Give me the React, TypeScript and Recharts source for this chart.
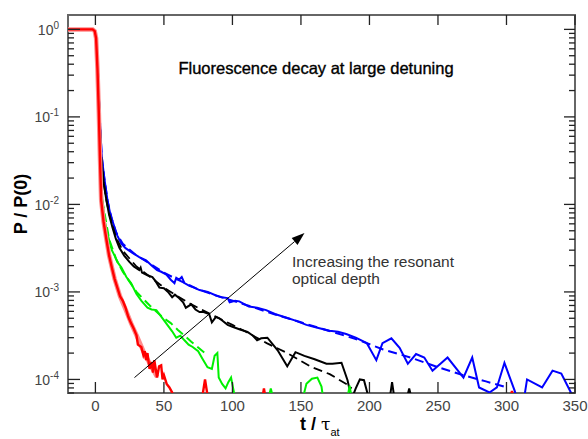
import { LineChart, Line, XAxis, YAxis, ReferenceLine, ReferenceArea } from "recharts";

type Pt = [number, number];

const FONT = "'Liberation Sans', Arial, sans-serif";

// plot frame edges in px (chart is 588 x 439)
const LEFT = 68;
const RIGHT = 575;
const TOP = 15;
const BOTTOM = 393;

// t / tau_at on x, P / P(0) on a log y axis
const X_DOMAIN = [-20, 350];
const Y_DOMAIN = [7e-5, 1.46];
const X_TICKS = [0, 50, 100, 150, 200, 250, 300, 350];
const Y_TICKS = [
  7e-5, 8e-5, 9e-5,
  1e-4, 2e-4, 3e-4, 4e-4, 5e-4, 6e-4, 7e-4, 8e-4, 9e-4,
  1e-3, 2e-3, 3e-3, 4e-3, 5e-3, 6e-3, 7e-3, 8e-3, 9e-3,
  1e-2, 2e-2, 3e-2, 4e-2, 5e-2, 6e-2, 7e-2, 8e-2, 9e-2,
  0.1, 0.2, 0.3, 0.4, 0.5, 0.6, 0.7, 0.8, 0.9, 1,
];

const BLUE: Pt[] = [
  [-20, 1], [-2, 1], [-0.5, 0.955], [0.5, 0.794], [1.8, 0.355], [3, 0.112], [4.6, 0.0355], [6.5, 0.02],
  [8.8, 0.0112], [11, 7.6e-3], [13.9, 5.5e-3], [16, 4.4e-3], [18.9, 3.55e-3], [22, 3.16e-3], [27, 2.8e-3],
  [32, 2.5e-3], [37, 2.3e-3], [41, 2.0e-3], [45, 1.78e-3], [48, 1.7e-3], [51.8, 1.58e-3], [55, 1.38e-3],
  [57.7, 1.26e-3], [59, 1.45e-3], [61, 1.38e-3], [63, 1.48e-3], [65, 1.26e-3], [68.6, 1.17e-3], [72, 1.12e-3],
  [76, 1.05e-3], [82, 1.0e-3], [88, 9.1e-4], [92, 8.7e-4], [96.5, 8.5e-4], [98, 7.6e-4], [102, 7.9e-4],
  [105, 7.8e-4], [112, 6.8e-4], [118, 6.6e-4], [124.6, 6.2e-4], [131, 5.6e-4], [139, 5.1e-4], [146, 4.7e-4],
  [154, 4.2e-4], [162, 3.9e-4], [171, 3.6e-4], [177, 3.5e-4], [183, 3.3e-4], [190, 3.0e-4], [198, 2.6e-4],
  [205, 1.66e-4], [209.5, 2.6e-4], [216, 2.95e-4], [222, 2.3e-4], [228, 1.51e-4], [234, 1.95e-4], [240, 1.78e-4],
  [246, 1.26e-4], [257, 1.78e-4], [268.6, 1.05e-4], [275, 1.78e-4], [280, 8.1e-5], [287.6, 7.1e-5], [293, 8.1e-5],
  [298.5, 1.55e-4], [306, 7.4e-5], [309, 5e-5], [312, 5e-5], [315, 1.0e-4], [326, 8.1e-5], [333.6, 1.26e-4],
  [340, 1.17e-4], [347, 7.1e-5], [350, 5.6e-5],
];
const BLUE_FIT: Pt[] = [
  [-20, 1], [-2, 1], [-0.5, 0.955], [0.5, 0.794], [1.8, 0.355], [3, 0.112], [4.6, 0.0355], [6.5, 0.02],
  [9, 0.0107], [12, 6.8e-3], [15, 4.8e-3], [20, 3.55e-3], [30, 2.6e-3], [40, 2.1e-3], [50, 1.66e-3],
  [60, 1.38e-3], [75, 1.07e-3], [90, 8.9e-4], [110, 7.1e-4], [130, 5.6e-4], [150, 4.5e-4], [170, 3.6e-4],
  [190, 2.9e-4], [210, 2.2e-4], [230, 1.78e-4], [250, 1.38e-4], [270, 1.1e-4], [285, 9.5e-5], [298, 8.3e-5],
];

const BLACK: Pt[] = [
  [-20, 1], [-2, 1], [-0.5, 0.955], [0.5, 0.794], [1.8, 0.355], [3, 0.112], [4.2, 0.0355], [6, 0.0178],
  [8, 0.0112], [10, 7.6e-3], [12.4, 5.5e-3], [15, 4.0e-3], [17.5, 3.2e-3], [21, 2.6e-3], [24.8, 2.2e-3],
  [28, 1.95e-3], [32, 1.78e-3], [33, 1.9e-3], [34, 1.66e-3], [38, 1.55e-3], [41.6, 1.48e-3], [44, 1.32e-3],
  [46.7, 1.12e-3], [50, 1.1e-3], [53, 1.0e-3], [56, 8.7e-4], [58, 9.3e-4], [61, 8.5e-4], [64, 7.6e-4],
  [66, 6.6e-4], [70, 7.2e-4], [73, 6.3e-4], [76, 5.9e-4], [79, 5.9e-4], [83, 5.6e-4], [85, 4.5e-4],
  [88, 5.2e-4], [90.5, 5.0e-4], [96.5, 4.2e-4], [100, 4.0e-4], [106, 3.7e-4], [111, 3.5e-4], [115, 3.16e-4],
  [118, 2.8e-4], [121, 2.95e-4], [125.5, 3.0e-4], [133, 2.15e-4], [140, 1.41e-4], [146, 2.05e-4],
  [152.5, 1.86e-4], [160, 1.7e-4], [168.6, 1.51e-4], [173, 1.51e-4], [179.6, 1.55e-4], [184, 9.8e-5],
  [187, 6e-5], [190, 7.9e-5], [193, 1.0e-4], [196, 9.8e-5], [201, 5e-5], [214, 5e-5], [216.5, 9.3e-5],
  [219, 5e-5], [226, 5e-5], [229, 7.9e-5], [232, 5e-5],
];
const BLACK_FIT: Pt[] = [
  [-20, 1], [-2, 1], [-0.5, 0.955], [0.5, 0.794], [1.8, 0.355], [3, 0.112], [4.2, 0.0355], [6, 0.0178],
  [8, 0.0112], [10, 7.9e-3], [15, 4.2e-3], [20, 2.95e-3], [30, 1.95e-3], [40, 1.48e-3], [50, 1.12e-3],
  [60, 8.9e-4], [70, 7.2e-4], [80, 6.0e-4], [90, 5.0e-4], [100, 4.2e-4], [110, 3.5e-4], [125, 2.6e-4],
  [140, 2.0e-4], [158, 1.38e-4], [171, 1.15e-4], [184, 8.7e-5], [187, 7.9e-5],
];

const GREEN: Pt[] = [
  [-20, 1], [-2, 1], [-0.5, 0.955], [0.5, 0.794], [1.7, 0.355], [2.8, 0.112], [3.7, 0.0355], [5, 0.0112],
  [7, 6.3e-3], [9, 4.5e-3], [12, 3.0e-3], [14, 2.6e-3], [16, 2.2e-3], [19, 1.9e-3], [22.6, 1.48e-3],
  [26, 1.26e-3], [30, 9.5e-4], [33.6, 7.9e-4], [38, 6.6e-4], [41, 6.3e-4], [44.5, 6.2e-4], [49, 5.0e-4],
  [52.5, 4.2e-4], [56, 3.55e-4], [59, 3.0e-4], [62, 3.16e-4], [65, 2.8e-4], [68, 2.5e-4], [71, 2.35e-4],
  [75, 2.1e-4], [78, 1.74e-4], [81.8, 1.38e-4], [85, 1.32e-4], [87, 1.86e-4], [89, 2.0e-4], [90, 1.05e-4],
  [92.5, 8.9e-5], [95, 7.9e-5], [97, 9.3e-5], [99, 1.05e-4], [103, 5e-5], [125, 5e-5], [128, 7.9e-5],
  [131, 5e-5], [150, 5e-5], [154, 8.9e-5], [158, 1.02e-4], [162, 1.05e-4], [165, 8.3e-5], [167, 5e-5],
  [183, 5e-5], [185.5, 8.5e-5], [188, 5e-5],
];
const GREEN_FIT: Pt[] = [
  [-20, 1], [-2, 1], [-0.5, 0.955], [0.5, 0.794], [1.7, 0.355], [2.8, 0.112], [3.7, 0.0355], [5, 0.0112],
  [10, 4.0e-3], [15, 2.4e-3], [20, 1.7e-3], [30, 1.0e-3], [40, 6.9e-4], [50, 5.0e-4], [55, 4.4e-4],
  [60, 3.7e-4], [70, 2.7e-4], [80, 2.0e-4],
];

const RED: Pt[] = [
  [-20, 1], [-2, 1], [-0.5, 0.955], [0.5, 0.794], [1.5, 0.355], [2.5, 0.112], [3.3, 0.0355], [4.2, 0.0112],
  [6, 6.3e-3], [8, 4.0e-3], [10, 2.6e-3], [12, 1.9e-3], [14, 1.41e-3], [16, 1.12e-3], [18, 8.9e-4],
  [20, 7.9e-4], [22, 6.6e-4], [24, 5.2e-4], [26, 4.4e-4], [28, 3.8e-4], [30, 3.2e-4], [31, 2.5e-4],
  [33.5, 2.35e-4], [35, 1.9e-4], [36, 2.1e-4], [37, 1.66e-4], [38, 2.0e-4], [39.5, 1.32e-4], [41, 1.58e-4],
  [42, 1.2e-4], [43, 1.66e-4], [45, 1.05e-4], [46.5, 1.41e-4], [48, 1.45e-4], [49, 1.0e-4], [50, 1.12e-4],
  [52, 8.9e-5], [54, 8.1e-5], [56, 7.1e-5], [58, 5e-5], [77, 5e-5], [80, 1.0e-4], [83, 5e-5], [121, 5e-5],
  [123, 7.9e-5], [125, 5e-5], [302, 5e-5], [304, 7.4e-5], [306, 5e-5],
];
const RED_FIT: Pt[] = [
  [-20, 1], [-2, 1], [-0.5, 0.955], [0.5, 0.794], [1.5, 0.355], [2.5, 0.112], [3.3, 0.0355], [4.2, 0.0112],
  [6, 6.3e-3], [8, 4.0e-3], [10, 2.6e-3], [14, 1.41e-3], [18, 8.9e-4], [22, 6.3e-4], [26, 4.4e-4],
  [30, 3.2e-4], [35, 2.1e-4], [40, 1.48e-4], [45, 1.07e-4],
];

// arrow "Increasing the resonant optical depth"
const ARROW: Pt[] = [[28.5, 1.05e-4], [152.6, 4.7e-3]];

const toRows = (pts: Pt[]) => pts.map(([t, v]) => ({ t, v }));

function isMajor(v: number) {
  const l = Math.log10(v);
  return Math.abs(l - Math.round(l)) < 1e-6;
}

// left ticks also draw the mirrored tick on the right edge of the frame
function LeftTick({ y, payload }: any) {
  const v = payload.value;
  const major = isMajor(v);
  return (
    <g>
      <line x1={LEFT} x2={LEFT + (major ? 12 : 6)} y1={y} y2={y} stroke="#222" strokeWidth={1.3} />
      <line x1={RIGHT} x2={RIGHT - (major ? 11 : 6)} y1={y} y2={y} stroke="#222" strokeWidth={1.3} />
      {major && (
        <text x={59} y={y + 5.5} textAnchor="end" fill="#444" fontSize={14} fontFamily={FONT}>
          10
          <tspan fontSize={10} dy={-6}>
            {Math.round(Math.log10(v))}
          </tspan>
        </text>
      )}
    </g>
  );
}

// bottom ticks also draw the mirrored tick on the top edge
function BottomTick({ x, payload }: any) {
  return (
    <g>
      <line x1={x} x2={x} y1={BOTTOM} y2={BOTTOM - 11} stroke="#222" strokeWidth={1.3} />
      <line x1={x} x2={x} y1={TOP} y2={TOP + 10} stroke="#222" strokeWidth={1.3} />
      <text x={x} y={BOTTOM + 18} textAnchor="middle" fill="#444" fontSize={15} fontFamily={FONT}>
        {payload.value}
      </text>
    </g>
  );
}

function Arrow(props: any) {
  const { x1, y1, x2, y2 } = props;
  const a = Math.atan2(y2 - y1, x2 - x1);
  const len = 13;
  const w = 4.5;
  const bx = x2 - len * Math.cos(a);
  const by = y2 - len * Math.sin(a);
  const px = -Math.sin(a) * w;
  const py = Math.cos(a) * w;
  return (
    <g>
      <line x1={x1} y1={y1} x2={bx} y2={by} stroke="#000" strokeWidth={1} />
      <polygon points={`${x2},${y2} ${bx + px},${by + py} ${bx - px},${by - py}`} fill="#000" />
    </g>
  );
}

export default function App() {
  const series = [
    { key: "blue", data: BLUE, color: "#0000ff", width: 2 },
    { key: "blueFit", data: BLUE_FIT, color: "#0000ff", width: 2, dash: "9 5" },
    { key: "black", data: BLACK, color: "#000000", width: 2 },
    { key: "blackFit", data: BLACK_FIT, color: "#000000", width: 1.8, dash: "9 5" },
    { key: "green", data: GREEN, color: "#00f000", width: 2 },
    { key: "greenFit", data: GREEN_FIT, color: "#00f000", width: 2, dash: "9 5" },
    { key: "redFit", data: RED_FIT, color: "#ff8c8c", width: 4.5 },
    { key: "red", data: RED, color: "#ff0000", width: 2.4 },
  ];

  return (
    <div style={{ position: "absolute", left: 0, top: 0, width: 588, height: 439, background: "#fff" }}>
      <LineChart width={588} height={439} margin={{ top: TOP, right: 588 - RIGHT, bottom: 16, left: 8 }}>
        <XAxis
          dataKey="t"
          type="number"
          domain={X_DOMAIN}
          ticks={X_TICKS}
          interval={0}
          height={30}
          tickLine={false}
          axisLine={false}
          tick={<BottomTick />}
          allowDataOverflow
        />
        <YAxis
          scale="log"
          type="number"
          domain={Y_DOMAIN}
          ticks={Y_TICKS}
          interval={0}
          width={60}
          tickLine={false}
          axisLine={false}
          tick={<LeftTick />}
          allowDataOverflow
        />
        {series.map((s) => (
          <Line
            key={s.key}
            data={toRows(s.data)}
            dataKey="v"
            type="linear"
            stroke={s.color}
            strokeWidth={s.width}
            strokeDasharray={s.dash}
            dot={false}
            activeDot={false}
            isAnimationActive={false}
          />
        ))}
        <ReferenceArea
          x1={X_DOMAIN[0]}
          x2={X_DOMAIN[1]}
          y1={Y_DOMAIN[0]}
          y2={Y_DOMAIN[1]}
          fill="none"
          fillOpacity={0}
          stroke="#666"
          strokeWidth={2}
          ifOverflow="visible"
        />
        <ReferenceLine
          segment={[
            { x: ARROW[0][0], y: ARROW[0][1] },
            { x: ARROW[1][0], y: ARROW[1][1] },
          ]}
          shape={<Arrow />}
          ifOverflow="visible"
        />
      </LineChart>
      <svg
        width={588}
        height={439}
        style={{ position: "absolute", left: 0, top: 0, pointerEvents: "none" }}
        fontFamily={FONT}
      >
        <text x={316} y={74} textAnchor="middle" fontSize={16.5} fill="#000" stroke="#000" strokeWidth={0.35}>
          Fluorescence decay at large detuning
        </text>
        <text x={292} y={267} fontSize={15.5} fill="#333">
          Increasing the resonant
        </text>
        <text x={292} y={284} fontSize={15.5} fill="#333">
          optical depth
        </text>
        <text transform="rotate(-90)" x={-204} y={27} textAnchor="middle" fontSize={18} fontWeight="bold" fill="#000">
          P / P(0)
        </text>
        <text x={300} y={430} fontSize={18} fontWeight="bold" fill="#000">
          t /{" "}
          <tspan fontWeight="normal" fontFamily="'DejaVu Serif', serif" fontSize={17}>
            τ
          </tspan>
          <tspan fontWeight="normal" fontSize={11} dy={6}>
            at
          </tspan>
        </text>
      </svg>
    </div>
  );
}
